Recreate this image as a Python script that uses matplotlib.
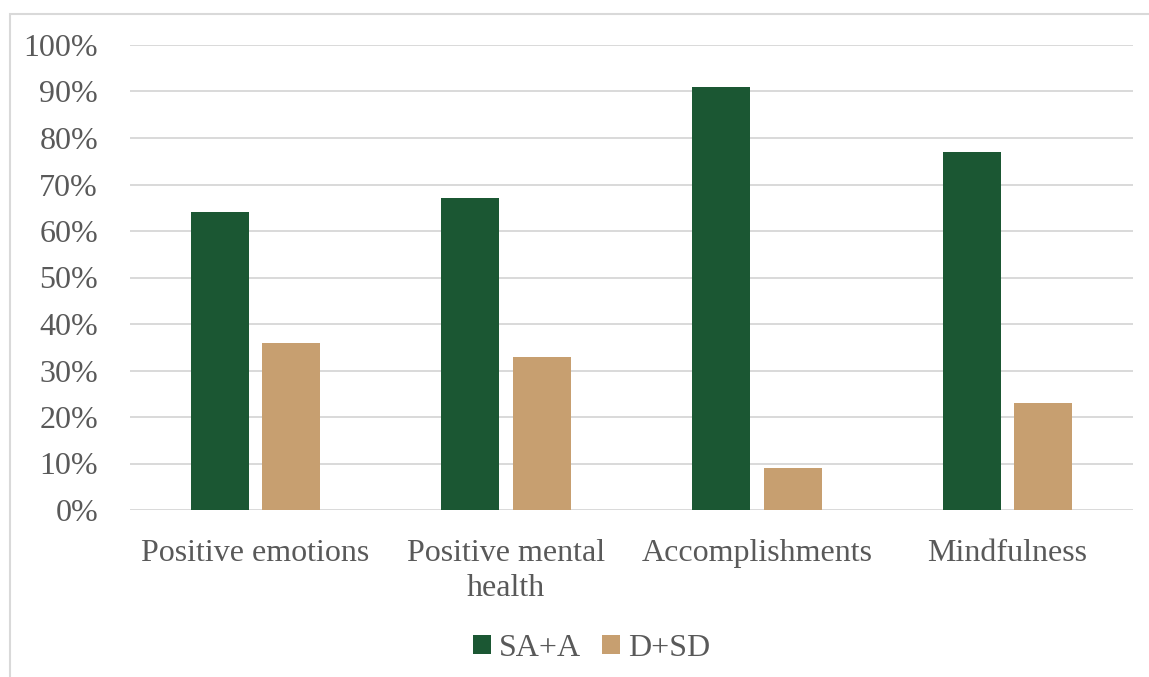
import matplotlib
matplotlib.use("Agg")
import matplotlib.pyplot as plt
import numpy as np
from matplotlib.patches import Rectangle

categories = ["Positive emotions", "Positive mental\nhealth", "Accomplishments", "Mindfulness"]
sa_a = [64, 67, 91, 77]
d_sd = [36, 33, 9, 23]
series_names = ["SA+A", "D+SD"]
yticks = [0, 10, 20, 30, 40, 50, 60, 70, 80, 90, 100]
ytick_labels = [f"{v}%" for v in yticks]

plt.rcParams['font.family'] = ['Liberation Serif', 'DejaVu Serif']
text_color = "#595959"
green = "#1b5733"
tan = "#c79f70"

fig = plt.figure(figsize=(11.49, 6.77), dpi=100)
ax = fig.add_axes([130/1149, 1-510/677, (1133-130)/1149, (510-45)/677])

x = np.arange(len(categories))
w = 0.231
off = 0.1426
ax.bar(x - off, sa_a, width=w, color=green, label=series_names[0], zorder=3)
ax.bar(x + off, d_sd, width=w, color=tan, label=series_names[1], zorder=3)

ax.set_xlim(-0.5, len(categories) - 0.5)
ax.set_ylim(0, 100)
ax.set_yticks(yticks)
ax.set_yticklabels(ytick_labels)
ax.set_xticks(x)
ax.set_xticklabels(categories, linespacing=1.25)
ax.tick_params(axis='both', length=0, labelsize=23, colors=text_color)
ax.tick_params(axis='y', pad=23)
ax.tick_params(axis='x', pad=21)
for lbl in ax.get_yticklabels():
    lbl.set_horizontalalignment('right')
ax.grid(axis='y', color="#d9d9d9", linewidth=1.4, zorder=0)
for s in ax.spines.values():
    s.set_visible(False)

# chart frame (left and top edges visible)
fig.patches.append(Rectangle((10/1149, -0.1), 1.2, 1 - 14/677 + 0.1, transform=fig.transFigure,
                             fill=False, edgecolor="#d9d9d9", linewidth=1.5, zorder=0))

leg = fig.legend(loc='center', bbox_to_anchor=(591.5/1149, 1 - 648/677), ncol=2, frameon=False,
                 fontsize=23, handlelength=0.55, handleheight=0.55, handletextpad=0.25,
                 columnspacing=0.66, labelcolor=text_color)

fig.savefig("out.png", dpi=100)
